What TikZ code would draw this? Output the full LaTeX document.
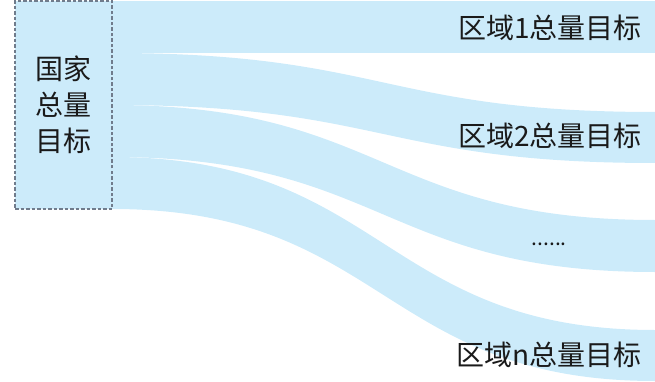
\documentclass[tikz,border=0pt]{standalone}
\usepackage{fontspec}
\newfontfamily\cjk{Noto Sans CJK SC}
\definecolor{bandblue}{RGB}{204,235,250}
\definecolor{dashgray}{RGB}{112,124,140}
\definecolor{txt}{RGB}{26,26,26}
\begin{document}
\begin{tikzpicture}[x=1pt,y=-1pt,
  band/.style={fill=bandblue,draw=none},
  natbox/.style={draw=dashgray,dash pattern=on 3.5pt off 2pt,line width=1.1pt,fill=bandblue,minimum width=97pt,minimum height=208pt,inner sep=0pt,
    align=center,text=txt,font=\cjk\fontsize{28}{36}\selectfont},
  lab/.style={anchor=east,inner sep=0pt,text=txt,font=\cjk\fontsize{28}{32}\selectfont}]
\useasboundingbox (0,0) rectangle (655,382);
% band end points
\coordinate (l0) at (112,1);
\coordinate (l1) at (112,53);
\coordinate (l2) at (112,105);
\coordinate (l3) at (112,157);
\coordinate (l4) at (112,209);
\coordinate (r1t) at (655,1);   \coordinate (r1b) at (655,53);
\coordinate (r2t) at (655,112); \coordinate (r2b) at (655,163);
\coordinate (r3t) at (655,220); \coordinate (r3b) at (655,272);
\coordinate (r4t) at (655,330); \coordinate (r4b) at (655,381);
% bands
\fill[band] (l0) -- (r1t) -- (r1b) -- (l1) -- cycle;
\fill[band] (l1) .. controls (383.5,53) and (383.5,112) .. (r2t) -- (r2b)
  .. controls (383.5,163) and (383.5,105) .. (l2) -- cycle;
\fill[band] (l2) .. controls (383.5,105) and (383.5,220) .. (r3t) -- (r3b)
  .. controls (383.5,272) and (383.5,157) .. (l3) -- cycle;
\fill[band] (l3) .. controls (383.5,157) and (383.5,330) .. (r4t) -- (r4b)
  .. controls (383.5,381) and (383.5,209) .. (l4) -- cycle;
% national box
\node[natbox] (nat) at (63.5,105) {国家\\总量\\目标};
% labels
\node[lab] (t1) at (642,28) {区域1总量目标};
\node[lab] (t2) at (642,136) {区域2总量目标};
\node[lab,anchor=base east,font=\cjk\fontsize{21}{24}\selectfont] (t3) at (567,245) {......};
\node[lab] (t4) at (642,355) {区域n总量目标};
\end{tikzpicture}
\end{document}
